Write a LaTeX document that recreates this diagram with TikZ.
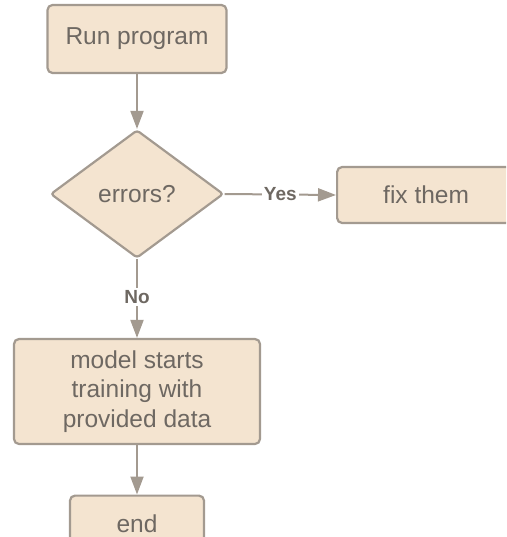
\documentclass[tikz,border=0pt]{standalone}
\usepackage{fontspec}
\setmainfont{Liberation Sans}
\usetikzlibrary{shapes.geometric,arrows.meta}
\definecolor{boxfill}{HTML}{F4E4D0}
\definecolor{boxline}{HTML}{A39A90}
\definecolor{txt}{HTML}{6E6862}
\tikzset{
  stepbox/.style={draw=boxline, fill=boxfill, line width=2.2pt, rounded corners=5pt, inner sep=0pt,
    text=txt, font=\fontsize{24.5}{29.5}\selectfont, align=center},
  decide/.style={diamond, draw=boxline, fill=boxfill, line width=2.2pt, rounded corners=3pt, inner sep=0pt,
    minimum width=173pt, minimum height=128pt, text=txt, font=\fontsize{24.5}{29.5}\selectfont},
  conn/.style={draw=boxline, line width=2pt, -{Triangle[length=18pt,width=13pt]}},
  lbl/.style={fill=white, inner sep=2pt, text=txt, font=\fontsize{19}{22}\selectfont\bfseries}
}
\begin{document}
\begin{tikzpicture}[x=1pt,y=-1pt]
\useasboundingbox (0,0) rectangle (506,537);
\clip (0,0) rectangle (506,537);
\node[stepbox, minimum width=179pt, minimum height=68pt] (run) at (137,39) {Run program};
\node[decide] (err) at (137,194) {errors?};
\node[stepbox, minimum width=178pt, minimum height=56pt, anchor=west] (fix) at (336,195) {fix them};
\node[stepbox, minimum width=246pt, minimum height=105pt] (model) at (137,391.5) {model starts\\training with\\provided data};
\node[stepbox, minimum width=134pt, minimum height=56pt, anchor=north] (end) at (137,494.5) {end};
\draw[conn] (run.south) -- (err.north);
\draw[conn] (err.east) -- node[lbl, pos=0.5] {Yes} (fix.west);
\draw[conn] (err.south) -- node[lbl, pos=0.48] {No} (model.north);
\draw[conn] (model.south) -- (end.north);
\end{tikzpicture}
\end{document}
